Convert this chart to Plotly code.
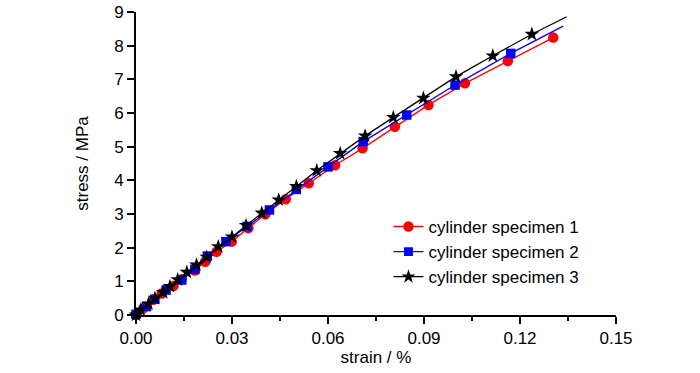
import plotly.graph_objects as go

# specimen 1 (red circles)
strain1 = [0.0, 0.0002, 0.0023, 0.0054, 0.0080, 0.0117, 0.0143, 0.0184, 0.0216, 0.0252, 0.0299,
           0.0351, 0.0404, 0.0468, 0.0540, 0.0622, 0.0708, 0.0809, 0.0914, 0.1028, 0.1162, 0.1304]
stress1 = [0.0, 0.03, 0.20, 0.45, 0.64, 0.86, 1.06, 1.32, 1.58, 1.88, 2.18,
           2.58, 2.99, 3.44, 3.91, 4.45, 4.95, 5.59, 6.24, 6.88, 7.54, 8.24]

# specimen 2 (blue squares); last point is the line end only
strain2 = [0.0, 0.0033, 0.0059, 0.0094, 0.0143, 0.0184, 0.0223, 0.0281, 0.0347, 0.0417,
           0.0501, 0.0600, 0.0710, 0.0846, 0.0997, 0.1171, 0.1335]
stress2 = [0.02, 0.25, 0.47, 0.74, 1.04, 1.36, 1.75, 2.18, 2.63, 3.12,
           3.73, 4.40, 5.15, 5.94, 6.83, 7.77, 8.58]

# specimen 3 (black stars); last point is the line end only
strain3 = [0.0, 0.0015, 0.0039, 0.0059, 0.0085, 0.0106, 0.0130, 0.0159, 0.0189, 0.0221, 0.0257,
           0.0300, 0.0344, 0.0393, 0.0446, 0.0501, 0.0565, 0.0638, 0.0716, 0.0804, 0.0898,
           0.1000, 0.1115, 0.1237, 0.1346]
stress3 = [0.0, 0.15, 0.33, 0.50, 0.67, 0.85, 1.05, 1.27, 1.49, 1.72, 2.03,
           2.32, 2.66, 3.03, 3.42, 3.82, 4.29, 4.80, 5.32, 5.87, 6.44,
           7.08, 7.70, 8.34, 8.86]

names = ["cylinder specimen 1", "cylinder specimen 2", "cylinder specimen 3"]
x_ticks = [0.0, 0.03, 0.06, 0.09, 0.12, 0.15]
x_tick_labels = ["0.00", "0.03", "0.06", "0.09", "0.12", "0.15"]
y_ticks = [0, 1, 2, 3, 4, 5, 6, 7, 8, 9]

FONT = "Liberation Sans, Arial, sans-serif"
FS = 17

fig = go.Figure()

def sizes(n, s, last_hidden):
    arr = [s] * n
    if last_hidden:
        arr[-1] = 0
    return arr

fig.add_trace(go.Scatter(
    x=strain1, y=stress1, name=names[0], mode="lines+markers",
    line=dict(color="#ff0000", width=1.3),
    marker=dict(symbol="circle", color="#ff0000", size=10.5, opacity=1, line=dict(width=0)),
    cliponaxis=False,
))
fig.add_trace(go.Scatter(
    x=strain2, y=stress2, name=names[1], mode="lines+markers",
    line=dict(color="#0000ff", width=1.3),
    marker=dict(symbol="square", color="#0000ff", size=sizes(len(strain2), 9.5, True),
                opacity=1, line=dict(width=0)),
    cliponaxis=False,
))
fig.add_trace(go.Scatter(
    x=strain3, y=stress3, name=names[2], mode="lines+markers",
    line=dict(color="#000000", width=1.3),
    marker=dict(symbol="star", color="#000000", size=sizes(len(strain3), 11, True),
                opacity=1, line=dict(width=0)),
    cliponaxis=False,
))

fig.update_layout(
    width=700, height=373,
    margin=dict(l=136, r=84, t=12, b=58),
    paper_bgcolor="white", plot_bgcolor="white",
    font=dict(family=FONT, size=FS, color="black"),
    showlegend=True,
    hovermode=False,
    legend=dict(
        x=0.526, y=0.35, xanchor="left", yanchor="top",
        bgcolor="rgba(0,0,0,0)", font=dict(size=FS),
        tracegroupgap=0,
    ),
    xaxis=dict(
        range=[0, 0.15], tickvals=x_ticks, ticktext=x_tick_labels,
        showgrid=False, zeroline=False, automargin=False,
        showline=True, linecolor="black", linewidth=2,
        ticks="outside", ticklen=7, tickwidth=1.5, tickcolor="black",
        minor=dict(dtick=0.015, tick0=0, ticks="outside", ticklen=4, tickwidth=1.5, tickcolor="black", showgrid=False),
        title=dict(text="strain / %", font=dict(size=FS), standoff=3),
        tickfont=dict(size=FS),
    ),
    yaxis=dict(
        range=[0, 9], tickvals=y_ticks,
        showgrid=False, zeroline=False, automargin=False,
        showline=True, linecolor="black", linewidth=2,
        ticks="outside", ticklen=7, tickwidth=1.5, tickcolor="black",
        title=dict(text="stress / MPa", font=dict(size=FS), standoff=21),
        tickfont=dict(size=FS),
    ),
)

# remove the browser's default body margin so the figure sits at the page corner
fig.write_html("out.html", config={"displayModeBar": False},
               post_script="document.body.style.margin='0';")
